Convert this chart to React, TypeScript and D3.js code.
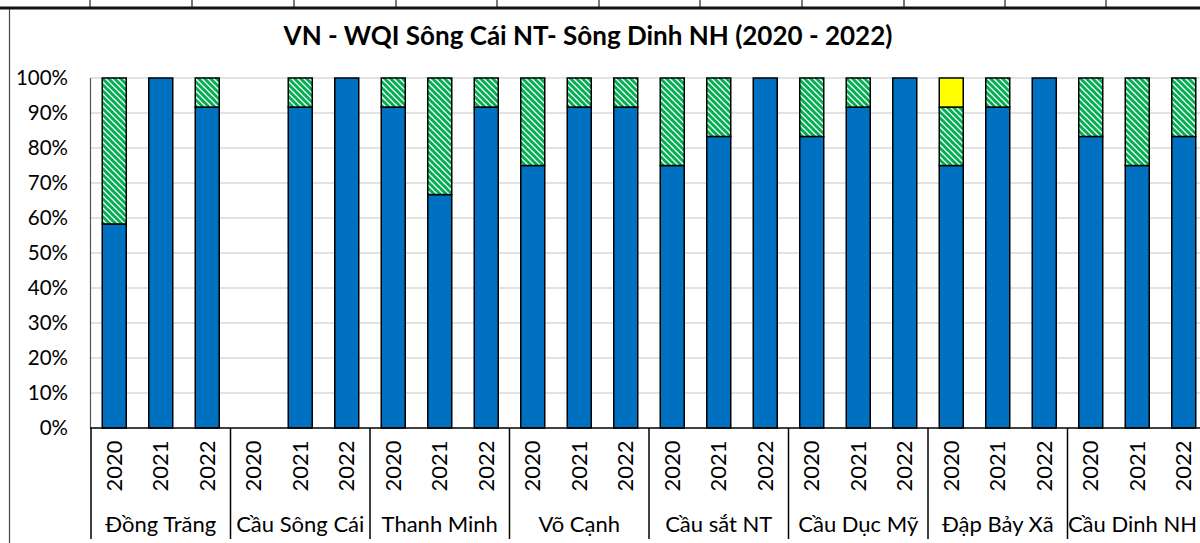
import { useEffect, useRef } from "react";
import * as d3 from "d3";

// Stations (groups) and years on the two-level category axis
const STATIONS = [
  "Đồng Trăng",
  "Cầu Sông Cái",
  "Thanh Minh",
  "Võ Cạnh",
  "Cầu sắt NT",
  "Cầu Dục Mỹ",
  "Đập Bảy Xã",
  "Cầu Dinh NH",
];
const YEARS = ["2020", "2021", "2022"];

// Share of samples per WQI class, one entry per station-year (percent)
const BLUE = [
  58.3, 100, 91.7,
  0, 91.7, 100,
  91.7, 66.7, 91.7,
  75, 91.7, 91.7,
  75, 83.3, 100,
  83.3, 91.7, 100,
  75, 91.7, 100,
  83.3, 75, 83.3,
];
const GREEN = [
  41.7, 0, 8.3,
  0, 8.3, 0,
  8.3, 33.3, 8.3,
  25, 8.3, 8.3,
  25, 16.7, 0,
  16.7, 8.3, 0,
  16.7, 8.3, 0,
  16.7, 25, 16.7,
];
const YELLOW = [
  0, 0, 0,
  0, 0, 0,
  0, 0, 0,
  0, 0, 0,
  0, 0, 0,
  0, 0, 0,
  8.3, 0, 0,
  0, 0, 0,
];

const Y_TICKS = [0, 10, 20, 30, 40, 50, 60, 70, 80, 90, 100];
const TITLE = "VN - WQI Sông Cái NT- Sông Dinh NH (2020 - 2022)";

// spreadsheet cell borders visible above the chart
const SHEET_COLS = [90, 192, 294, 396, 497, 599, 700, 802, 904, 1005, 1106];

const FONT = "Lato, 'Open Sans', sans-serif";

export default function App() {
  const svgRef = useRef<SVGSVGElement | null>(null);

  useEffect(() => {
    const width = 1200;
    const height = 543;
    const svg = d3.select(svgRef.current);
    svg.selectAll("*").remove();
    svg.attr("width", width).attr("height", height);

    svg.append("rect").attr("width", width).attr("height", height).attr("fill", "#fff");

    // hatch pattern for the green series
    const defs = svg.append("defs");
    const pat = defs.append("pattern")
      .attr("id", "hatch")
      .attr("patternUnits", "userSpaceOnUse")
      .attr("width", 6)
      .attr("height", 6);
    pat.append("rect").attr("width", 6).attr("height", 6).attr("fill", "#fff");
    pat.append("path")
      .attr("d", "M-1,-1 L7,7 M-4,2 L2,8 M4,-2 L8,2")
      .attr("stroke", "#00B050")
      .attr("stroke-width", 3);

    // sheet grid at the top
    SHEET_COLS.forEach((x) => {
      svg.append("line")
        .attr("x1", x).attr("x2", x)
        .attr("y1", 0).attr("y2", 7)
        .attr("stroke", "#222").attr("stroke-width", 1.2);
    });
    svg.append("line")
      .attr("x1", 0).attr("x2", width)
      .attr("y1", 8).attr("y2", 8)
      .attr("stroke", "#111").attr("stroke-width", 3);
    // chart frame left edge
    svg.append("line")
      .attr("x1", 9.5).attr("x2", 9.5)
      .attr("y1", 9).attr("y2", height)
      .attr("stroke", "#444").attr("stroke-width", 1.2);

    // title
    svg.append("text")
      .attr("x", 588)
      .attr("y", 45)
      .attr("text-anchor", "middle")
      .attr("font-family", FONT)
      .attr("font-weight", "bold")
      .attr("font-size", "26px")
      .attr("fill", "#000")
      .text(TITLE);

    // ----- Scales -----
    const n = STATIONS.length * YEARS.length;
    const plotLeft = 91;
    const band = 46.5;
    const x = d3.scaleBand<number>()
      .domain(d3.range(n))
      .range([plotLeft, plotLeft + band * n])
      .paddingInner(0.484)
      .paddingOuter(0.242);

    const y = d3.scaleLinear().domain([0, 100]).range([428, 78]);

    // gridlines
    svg.append("g")
      .selectAll("line")
      .data(Y_TICKS.filter((t) => t > 0))
      .join("line")
      .attr("x1", plotLeft).attr("x2", width)
      .attr("y1", (d) => y(d)).attr("y2", (d) => y(d))
      .attr("stroke", "#D9D9D9").attr("stroke-width", 1.5);

    // y labels
    svg.append("g")
      .selectAll("text")
      .data(Y_TICKS)
      .join("text")
      .attr("x", 68)
      .attr("y", (d) => y(d))
      .attr("dy", "0.35em")
      .attr("text-anchor", "end")
      .attr("font-family", FONT)
      .attr("font-size", "20.5px")
      .attr("fill", "#000")
      .text((d) => d + "%");

    // y axis line
    svg.append("line")
      .attr("x1", plotLeft - 0.5).attr("x2", plotLeft - 0.5)
      .attr("y1", y(100)).attr("y2", y(0))
      .attr("stroke", "#555").attr("stroke-width", 1.2);

    // ----- stacked bars -----
    const stacks = d3.range(n).map((i) => {
      const b = BLUE[i];
      const g = GREEN[i];
      const yl = YELLOW[i];
      return [
        { i, y0: 0, y1: b, fill: "#0070C0" },
        { i, y0: b, y1: b + g, fill: "url(#hatch)" },
        { i, y0: b + g, y1: b + g + yl, fill: "#FFFF00" },
      ].filter((s) => s.y1 > s.y0);
    });

    svg.append("g")
      .selectAll("rect")
      .data(stacks.flat())
      .join("rect")
      .attr("x", (d) => x(d.i)!)
      .attr("width", x.bandwidth())
      .attr("y", (d) => y(d.y1))
      .attr("height", (d) => y(d.y0) - y(d.y1))
      .attr("fill", (d) => d.fill)
      .attr("stroke", "#000")
      .attr("stroke-width", 1.5);

    // x axis line
    svg.append("line")
      .attr("x1", plotLeft - 1).attr("x2", width)
      .attr("y1", y(0)).attr("y2", y(0))
      .attr("stroke", "#000").attr("stroke-width", 1.5);

    // year labels (rotated)
    svg.append("g")
      .selectAll("text")
      .data(d3.range(n))
      .join("text")
      .attr("transform", (i) => `translate(${x(i)! + x.bandwidth() / 2},466) rotate(-90)`)
      .attr("text-anchor", "middle")
      .attr("dy", "0.35em")
      .attr("font-family", FONT)
      .attr("font-size", "22px")
      .attr("fill", "#000")
      .text((i) => YEARS[i % YEARS.length]);

    // group separators
    svg.append("g")
      .selectAll("line")
      .data(d3.range(STATIONS.length + 1))
      .join("line")
      .attr("x1", (k) => plotLeft + k * band * 3)
      .attr("x2", (k) => plotLeft + k * band * 3)
      .attr("y1", y(0))
      .attr("y2", 539)
      .attr("stroke", "#000")
      .attr("stroke-width", 1.5);

    // station labels
    const labels = svg.append("g")
      .selectAll("text")
      .data(STATIONS)
      .join("text")
      .attr("x", (_, k) => plotLeft + (k + 0.5) * band * 3)
      .attr("y", 524)
      .attr("dy", "0.35em")
      .attr("text-anchor", "middle")
      .attr("font-family", FONT)
      .attr("font-size", "22px")
      .attr("fill", "#000")
      .text((d) => d);

    // keep the last label inside the visible area
    labels.each(function (_, k) {
      const el = this as SVGTextElement;
      const cx = plotLeft + (k + 0.5) * band * 3;
      const w = el.getComputedTextLength();
      if (cx + w / 2 > width - 3) {
        d3.select(el).attr("text-anchor", "end").attr("x", width - 3);
      }
    });
  }, []);

  return (
    <div style={{ position: "fixed", left: 0, top: 0, width: 1200, height: 543, overflow: "hidden" }}>
      <svg ref={svgRef} style={{ display: "block" }}></svg>
    </div>
  );
}
